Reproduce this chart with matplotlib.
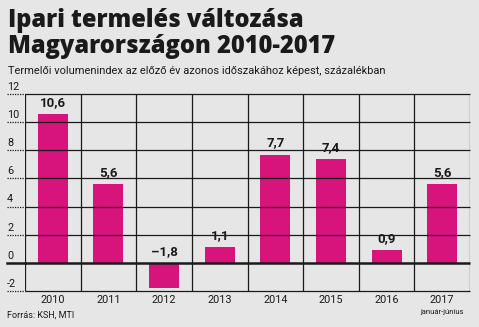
import matplotlib
matplotlib.use("Agg")
import matplotlib.pyplot as plt
from matplotlib.transforms import blended_transform_factory

years = ["2010", "2011", "2012", "2013", "2014", "2015", "2016", "2017"]
values = [10.6, 5.6, -1.8, 1.1, 7.7, 7.4, 0.9, 5.6]
value_labels = ["10,6", "5,6", "\u20131,8", "1,1", "7,7", "7,4", "0,9", "5,6"]
yticks = [-2, 0, 2, 4, 6, 8, 10, 12]

title_lines = ["Ipari termelés változása", "Magyarországon 2010-2017"]
subtitle = "Termelői volumenindex az előző év azonos időszakához képest, százalékban"
source = "Forrás: KSH, MTI"
note_2017 = "január-június"

BG = "#e6e6e6"
BAR = "#d7137c"
INK = "#1a1a1a"

plt.rcParams["font.family"] = ["Roboto", "DejaVu Sans"]

fig = plt.figure(figsize=(4.79, 3.27), dpi=100, facecolor=BG)
W, H = 479, 327

ax = fig.add_axes([25 / W, 1 - 291 / H, 445 / W, 197 / H])
ax.set_facecolor(BG)
ax.set_xlim(0, len(years))
ax.set_ylim(-2, 12)

x = [i + 0.5 for i in range(len(years))]
ax.bar(x, values, width=0.54, color=BAR, zorder=2)

# horizontal grid: solid inside, dotted lead-in to the left of the plot
trans = blended_transform_factory(ax.transAxes, ax.transData)
for t in yticks:
    lw = 1.8 if t == 0 else 0.9
    ax.plot([0, 1], [t, t], transform=trans, color=INK, lw=lw, zorder=3, clip_on=False,
            solid_capstyle="butt")
    ax.plot([-18 / 445, 0], [t, t], transform=trans, color=INK, lw=lw,
            ls=(0, (1, 1)) if t != 0 else "-", zorder=3, clip_on=False)
    ax.text(-18 / 445, t + 0.15, str(t), transform=trans, ha="left", va="bottom",
            fontsize=7.8, color=INK)

# vertical separators between years
for i in range(len(years) + 1):
    ax.axvline(i, color=INK, lw=0.9, zorder=3)

for xi, v, lab in zip(x, values, value_labels):
    ax.text(xi, max(v, 0) + 0.35, lab, ha="center", va="bottom", fontsize=9.5,
            fontweight="bold", color=INK, zorder=4)

for xi, yr in zip(x, years):
    ax.text(xi, -2.25, yr, ha="center", va="top", fontsize=7.8, color=INK)
ax.text(x[-1], -3.3, note_2017, ha="center", va="top", fontsize=5.5, color=INK)

for s in ax.spines.values():
    s.set_visible(False)
ax.set_xticks([])
ax.set_yticks([])

title_font = dict(family=["Open Sans", "DejaVu Sans"], fontsize=17, fontweight="heavy")
fig.text(8 / W, 1 - 27 / H, title_lines[0], color=INK, ha="left", va="baseline", **title_font)
fig.text(8 / W, 1 - 53 / H, title_lines[1], color=INK, ha="left", va="baseline", **title_font)
fig.text(8 / W, 1 - 74 / H, subtitle, fontsize=7.9, color=INK, ha="left", va="baseline")
fig.text(7 / W, 1 - 318 / H, source, fontsize=6.5, color=INK, ha="left", va="baseline")

fig.savefig("out.png", dpi=100, facecolor=BG)
